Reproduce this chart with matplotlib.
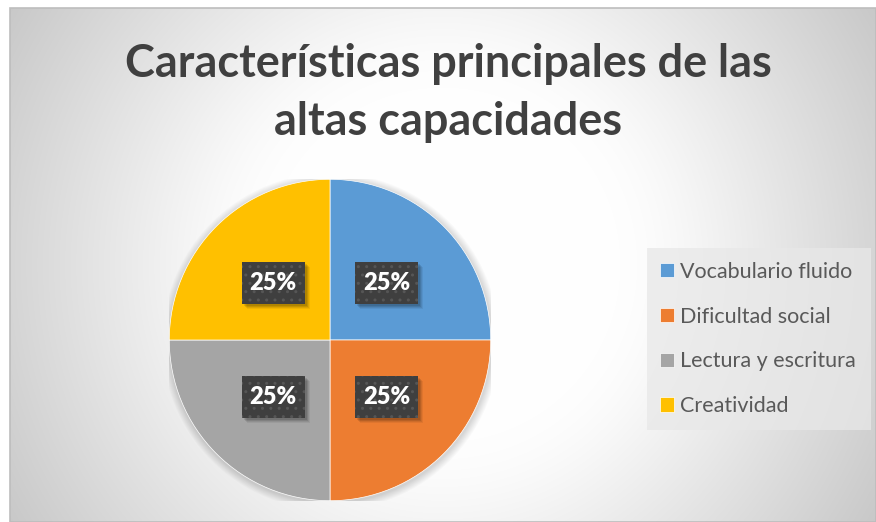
import numpy as np
import matplotlib
matplotlib.use("Agg")
import matplotlib.pyplot as plt
from matplotlib.patches import Rectangle, Circle

# ---- data ----
categories = ["Vocabulario fluido", "Dificultad social", "Lectura y escritura", "Creatividad"]
values = [25, 25, 25, 25]
colors = ["#5B9BD5", "#ED7D31", "#A5A5A5", "#FFC000"]
title = "Características principales de las\naltas capacidades"

W, H = 876, 522
fig = plt.figure(figsize=(W / 100, H / 100), dpi=100)
fig.patch.set_facecolor("white")

# ---- background radial gradient (chart area) ----
L, T = 10, 8
bg = fig.add_axes([L / W, 0, (W - L) / W, (H - T) / H])
xs = np.arange(L, W) + 0.5
ys = np.arange(T, H) + 0.5
X, Y = np.meshgrid(xs, ys)
r = np.hypot(X - 443, Y - 265)
d = np.logaddexp(0, (r - 200) / 20) * 20
v = np.clip((255 - 0.18 * d) / 255, 0, 1)
bg.imshow(np.dstack([v, v, v]), extent=(0, 1, 0, 1), aspect="auto", origin="upper",
          interpolation="bilinear")
bg.set_axis_off()
fig.add_artist(Rectangle((L / W, 0), (W - L) / W, (H - T) / H, transform=fig.transFigure,
                         fill=False, edgecolor="#bdbdbd", linewidth=1.2))

# ---- pie ----
cx, cy, R = 330, 340, 160.7
ax = fig.add_axes([(cx - R) / W, (H - cy - R) / H, 2 * R / W, 2 * R / H])
ax.patch.set_alpha(0)
# soft shadow
for i in range(8):
    ax.add_patch(Circle((0.005, -0.01), 1.0 + 0.006 * (i + 1), facecolor="black",
                        alpha=0.018, edgecolor="none", zorder=0))
wedges, _, autotexts = ax.pie(
    values, colors=colors, startangle=90, counterclock=False,
    autopct="%1.0f%%", pctdistance=0.5,
    wedgeprops=dict(edgecolor="white", linewidth=0.5),
    textprops=dict(color="white", fontsize=17, fontweight="heavy", family=["Lato", "DejaVu Sans"]),
)
ax.set_xlim(-1, 1)
ax.set_ylim(-1, 1)
ax.set_axis_off()

bw, bh = 63 / R, 42 / R
for t in autotexts:
    x, y = t.get_position()
    for k, a in enumerate([0.10, 0.10, 0.08, 0.06]):
        off = (2 + k) / R
        ax.add_patch(Rectangle((x - bw / 2 + off, y - bh / 2 - off), bw, bh,
                               facecolor="black", edgecolor="none", alpha=a, zorder=3,
                               clip_on=False))
    ax.add_patch(Rectangle((x - bw / 2, y - bh / 2), bw, bh, facecolor="#3f3f3f",
                           edgecolor="#565656", linewidth=0, hatch="..", zorder=4,
                           clip_on=False))
    t.set_zorder(5)
    t.set_va("center")
    t.set_ha("center")

# ---- title ----
fig.text(448 / W, 1 - 43 / H, title, ha="center", va="top", fontsize=32.4,
         fontweight="bold", family=["Lato", "DejaVu Sans"], color="#404040",
         linespacing=1.46)

# ---- legend ----
fig.add_artist(Rectangle((647 / W, 1 - 430 / H), (871 - 647) / W, (430 - 248) / H,
                         transform=fig.transFigure, facecolor="#e8e8e8", alpha=0.74,
                         edgecolor="none"))
leg = fig.legend(wedges, categories, loc="center left",
                 bbox_to_anchor=(660 / W, 1 - 339 / H), frameon=False,
                 prop=dict(family=["Lato", "DejaVu Sans"], size=15.5),
                 labelcolor="#595959", handlelength=0.65, handleheight=0.65,
                 handletextpad=0.3, labelspacing=1.15, borderpad=0, borderaxespad=0)

fig.savefig("out.png", dpi=100, facecolor="white")
